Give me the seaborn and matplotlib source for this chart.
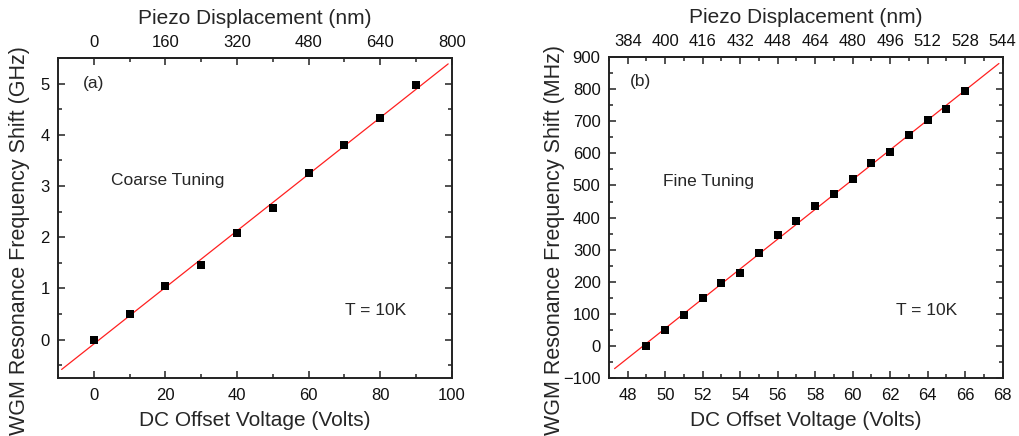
import numpy as np
import pandas as pd
import matplotlib
matplotlib.use("Agg")
import matplotlib.pyplot as plt
from matplotlib.ticker import MultipleLocator
import seaborn as sns

# ---- data ----
coarse_voltage = [0, 10, 20, 30, 40, 50, 60, 70, 80, 90]
coarse_shift_ghz = [0.0, 0.50, 1.04, 1.46, 2.09, 2.57, 3.25, 3.81, 4.32, 4.97]

fine_voltage = [49, 50, 51, 52, 53, 54, 55, 56, 57, 58, 59, 60, 61, 62, 63, 64, 65, 66]
fine_shift_mhz = [0, 51, 96, 149, 197, 228, 290, 345, 390, 436, 472, 521, 569, 603, 658, 703, 739, 795]

nm_per_volt = 8.0
coarse_fit_range = (-9, 99)
fine_fit_range = (47.3, 67.8)

sns.set_style("ticks")
plt.rcParams['font.family'] = ['Liberation Sans', 'DejaVu Sans']
plt.rcParams['axes.edgecolor'] = '#222222'
plt.rcParams['axes.linewidth'] = 1.4

TICK_FS = 12
LABEL_FS = 15
YLABEL_FS = 15.5
ANN_FS = 12.5

fig = plt.figure(figsize=(10.2, 4.36), dpi=100)
axL = fig.add_axes([0.0569, 0.133, 0.386, 0.734])
axR = fig.add_axes([0.597, 0.133, 0.386, 0.736])


def panel(ax, x, y, fit_range, xlim, ylim, xmaj, xmin, ymaj, ymin, topmaj, topmin, ylabel, ylab_x):
    df = pd.DataFrame({"x": x, "y": y})
    k, b = np.polyfit(df["x"], df["y"], 1)
    xf = np.linspace(fit_range[0], fit_range[1], 50)
    fit = pd.DataFrame({"x": xf, "y": k * xf + b})
    sns.lineplot(data=fit, x="x", y="y", ax=ax, color="#ff2020", lw=0.9, zorder=2)
    sns.scatterplot(data=df, x="x", y="y", ax=ax, marker="s", s=30, color="black",
                    edgecolor="black", linewidth=0, zorder=3)
    ax.set_xlim(*xlim)
    ax.set_ylim(*ylim)
    ax.xaxis.set_major_locator(MultipleLocator(xmaj))
    ax.xaxis.set_minor_locator(MultipleLocator(xmin))
    ax.yaxis.set_major_locator(MultipleLocator(ymaj))
    ax.yaxis.set_minor_locator(MultipleLocator(ymin))
    ax.tick_params(which='both', direction='in', top=False, right=True, labelsize=TICK_FS,
                   color='#222222', width=1.1, labelcolor='#111111')
    ax.tick_params(which='major', length=5)
    ax.tick_params(axis='x', which='major', pad=7)
    ax.tick_params(axis='y', which='major', pad=6)
    ax.tick_params(which='minor', length=3)
    ax.set_xlabel("DC Offset Voltage (Volts)", fontsize=LABEL_FS, labelpad=6)
    ax.set_ylabel(ylabel, fontsize=YLABEL_FS)
    ax.yaxis.set_label_coords(ylab_x, 0.43)
    sec = ax.secondary_xaxis('top', functions=(lambda v: v * nm_per_volt, lambda d: d / nm_per_volt))
    sec.xaxis.set_major_locator(MultipleLocator(topmaj))
    sec.xaxis.set_minor_locator(MultipleLocator(topmin))
    sec.tick_params(which='both', direction='in', labelsize=TICK_FS, color='#222222', width=1.1,
                    labelcolor='#111111')
    sec.tick_params(which='major', length=5, pad=6)
    sec.tick_params(which='minor', length=3)
    sec.set_xlabel("Piezo Displacement (nm)", fontsize=LABEL_FS, labelpad=8)
    for s in sec.spines.values():
        s.set_linewidth(1.4)
    return ax


panel(axL, coarse_voltage, coarse_shift_ghz, coarse_fit_range, (-10, 100), (-0.75, 5.5),
      20, 10, 1, 0.5, 160, 80, "WGM Resonance Frequency Shift (GHz)", -0.072)
panel(axR, fine_voltage, fine_shift_mhz, fine_fit_range, (47, 68), (-100, 900),
      2, 1, 100, 50, 16, 8, "WGM Resonance Frequency Shift (MHz)", -0.112)

axL.text(-3, 5.0, "(a)", fontsize=ANN_FS, va='center', ha='left')
axL.text(4.7, 3.1, "Coarse Tuning", fontsize=ANN_FS, va='center', ha='left')
axL.text(70.2, 0.57, "T = 10K", fontsize=ANN_FS, va='center', ha='left')

axR.text(48.1, 825, "(b)", fontsize=ANN_FS, va='center', ha='left')
axR.text(49.9, 511, "Fine Tuning", fontsize=ANN_FS, va='center', ha='left')
axR.text(62.3, 109, "T = 10K", fontsize=ANN_FS, va='center', ha='left')

fig.savefig("out.png", dpi=100)
